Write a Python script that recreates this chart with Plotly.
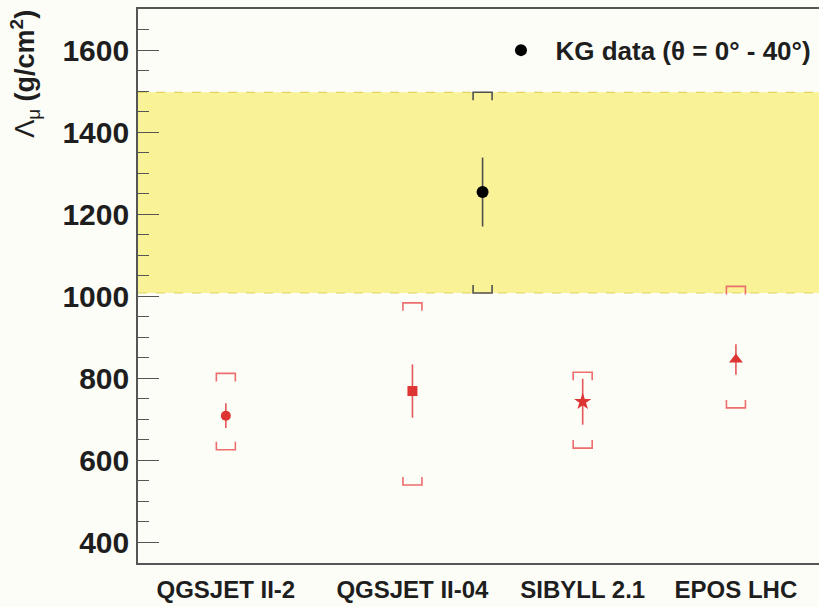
import plotly.graph_objects as go

# Hadronic interaction models (red) and KASCADE-Grande measurement (black)
models = ["QGSJET II-2", "QGSJET II-04", "SIBYLL 2.1", "EPOS LHC"]
model_x = [1.29, 4.03, 6.53, 8.78]
model_val = [709, 769, 743, 846]
model_stat = [30, 65, 56, 37]
model_sys_lo = [626, 540, 630, 728]
model_sys_hi = [812, 984, 815, 1024]
model_symbols = ["circle", "square", "star", "triangle-up"]
model_sizes = [10, 10, 13, 12]

kg_x = 5.06
kg_val = 1254
kg_stat = 84
kg_sys_lo = 1008
kg_sys_hi = 1497

y_tickvals = [400, 600, 800, 1000, 1200, 1400, 1600]

RED = "rgb(221,52,52)"
RED_BAR = "rgb(228,88,88)"
RED_BRK = "rgb(236,110,110)"
GREY = "rgb(80,80,80)"
BG = "rgb(253,253,248)"
FONT = "Liberation Sans, Arial, sans-serif"

fig = go.Figure()

# Model predictions with statistical error bars
for name, x, v, e, sym, sz in zip(models, model_x, model_val, model_stat,
                                  model_symbols, model_sizes):
    fig.add_trace(go.Scatter(
        x=[x], y=[v], mode="markers", showlegend=False, name=name,
        marker=dict(symbol=sym, size=sz, color=RED, line=dict(width=0)),
        error_y=dict(type="data", array=[e], color=RED_BAR, thickness=1.6, width=0),
    ))

# Measurement
fig.add_trace(go.Scatter(
    x=[kg_x], y=[kg_val], mode="markers", showlegend=True,
    name="\u00a0\u00a0KG data (\u03b8 = 0\u00b0 - 40\u00b0)",
    marker=dict(symbol="circle", size=12, color="black"),
    error_y=dict(type="data", array=[kg_stat], color=GREY, thickness=1.6, width=0),
))

shapes = []
# Systematic band of the measurement
shapes.append(dict(type="rect", xref="paper", yref="y", x0=0, x1=1,
                   y0=kg_sys_lo, y1=kg_sys_hi, layer="below",
                   fillcolor="rgb(249,242,150)", line=dict(width=0)))
for yv in (kg_sys_lo, kg_sys_hi):
    shapes.append(dict(type="line", xref="paper", yref="y", x0=0, x1=1,
                       y0=yv, y1=yv, layer="below",
                       line=dict(color="rgb(226,212,96)", width=1.2, dash="dash")))


def bracket(x, y, top, color):
    legs = "-8" if top else "8"
    path = f"M-9.5,{legs} L-9.5,0 L9.5,0 L9.5,{legs}"
    return dict(type="path", xref="x", yref="y", xsizemode="pixel",
                ysizemode="pixel", xanchor=x, yanchor=y, path=path,
                line=dict(color=color, width=1.6), layer="above")


# Systematic brackets
for x, lo, hi in zip(model_x, model_sys_lo, model_sys_hi):
    shapes.append(bracket(x, hi, True, RED_BRK))
    shapes.append(bracket(x, lo, False, RED_BRK))
shapes.append(bracket(kg_x, kg_sys_hi, True, GREY))
shapes.append(bracket(kg_x, kg_sys_lo, False, GREY))

fig.update_layout(
    width=819, height=607,
    margin=dict(l=138, r=0, t=9, b=44, autoexpand=False),
    paper_bgcolor=BG, plot_bgcolor=BG,
    font=dict(family=FONT, color="rgb(30,30,30)"),
    shapes=shapes,
    showlegend=True,
    legend=dict(x=0.533, y=0.968, xanchor="left", yanchor="top",
                bgcolor="rgba(0,0,0,0)", itemwidth=30,
                font=dict(size=26, weight="bold", family=FONT)),
    xaxis=dict(range=[0, 10], tickvals=model_x, ticktext=models,
               showgrid=False, zeroline=False, showline=True, mirror=True,
               linecolor="rgb(85,85,85)", linewidth=1.6, ticks="",
               ticklabelstandoff=4, automargin=False,
               tickfont=dict(size=24, weight="bold", family=FONT)),
    yaxis=dict(range=[350, 1700], tickvals=y_tickvals,
               showgrid=False, zeroline=False, showline=True, mirror=False,
               linecolor="rgb(85,85,85)", linewidth=1.6,
               ticks="inside", ticklen=21, tickwidth=1.4, tickcolor="rgb(85,85,85)",
               minor=dict(dtick=50, ticks="inside", ticklen=11, tickwidth=1.4,
                          tickcolor="rgb(85,85,85)", showgrid=False),
               ticklabelstandoff=1, automargin=False,
               tickfont=dict(size=30, weight="bold", family=FONT)),
)

# Y-axis title
fig.add_annotation(
    xref="paper", yref="paper", x=-0.166, y=1.002, xanchor="center", yanchor="top",
    textangle=-90, showarrow=False,
    text="\u039b<sub>\u03bc</sub> <b>(g/cm<sup>2</sup>)</b>",
    font=dict(size=27, family=FONT, color="rgb(30,30,30)"),
)

fig.write_html("out.html")
